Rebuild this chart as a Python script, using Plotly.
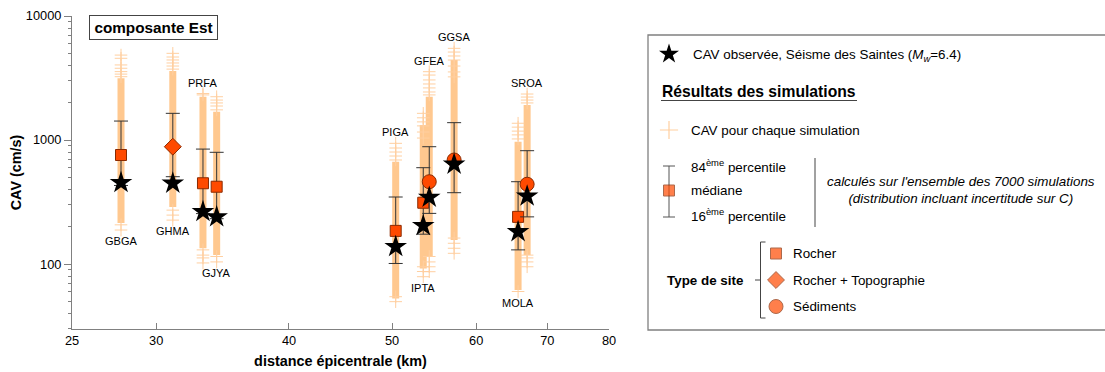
import numpy as np
import plotly.graph_objects as go

# ---------------- data ----------------
stations = ["GBGA", "GHMA", "PRFA", "GJYA", "PIGA", "IPTA", "GFEA", "GGSA", "MOLA", "SROA"]
distance_km = [27.8, 31.1, 33.2, 34.2, 50.4, 53.5, 54.2, 57.2, 65.7, 67.0]
site_type = ["Rocher", "Rocher + Topographie", "Rocher", "Rocher", "Rocher",
             "Rocher", "Sédiments", "Sédiments", "Rocher", "Sédiments"]
cav_observed = [453, 448, 264, 240, 138, 204, 345, 637, 182, 353]
cav_median = [757, 883, 448, 420, 185, 312, 461, 690, 240, 440]
cav_p84 = [1422, 1641, 845, 796, 347, 598, 883, 1380, 461, 820]
cav_p16 = [430, 506, 255, 232, 101, 174, 256, 376, 130, 240]
# dense part of the 7000 simulations (continuous band)
sim_dense_lo = [214, 288, 134, 118, 52.8, 92, 115, 156, 61.7, 118]
sim_dense_hi = [3145, 3600, 2234, 1692, 668, 1321, 2234, 4416, 968, 1914]
# sparse simulated values in the tails
sim_tail_hi = [
    [4840, 4560, 4030, 3790, 3560, 3400, 3240],
    [5000, 4670, 4420, 4180, 3950, 3730],
    [2370, 2310],
    [2234, 2100, 1990, 1880, 1750],
    [940, 862, 800, 743, 690],
    [1641, 1510, 1400, 1300, 1160, 1037],
    [3556, 3340, 3050, 2830, 2630, 2440, 2310],
    [5486, 5120, 4760, 4416, 3950, 3540, 3230],
    [1365, 1270, 1180, 1100, 1020],
    [2349, 2220, 2100, 1990],
]
sim_tail_lo = [
    [207, 188],
    [272, 248, 226],
    [130, 118, 112, 102],
    [115, 104],
    [54.5, 49.7],
    [95, 87, 79],
    [115, 104, 95, 86.7],
    [162, 147, 134, 122],
    [60],
    [118, 112, 104, 95],
]
label_side = ["below", "below", "above", "below", "above", "below", "above", "above", "below", "above"]

x_ticks = [25, 30, 40, 50, 60, 70, 80]
y_ticks = [100, 1000, 10000]
y_minor = [30, 40, 50, 60, 70, 80, 90, 200, 300, 400, 500, 600, 700, 800, 900,
           2000, 3000, 4000, 5000, 6000, 7000, 8000, 9000]

# ---------------- styles ----------------
FONT = "Liberation Sans, Arial, sans-serif"
BAND = "#FFC88F"
CROSS = "#FFCFA0"
MARK = "#FF4A00"
MARK_LINE = "#8A2A00"
ERR = "#333333"
AXIS = "#808080"
LEG = 13.4
symbol_of = {"Rocher": "square", "Rocher + Topographie": "diamond", "Sédiments": "circle"}
size_of = {"Rocher": 11, "Rocher + Topographie": 13, "Sédiments": 14}

fig = go.Figure()

# dense simulation bands
bx, by = [], []
for d, lo, hi in zip(distance_km, sim_dense_lo, sim_dense_hi):
    bx += [d, d, None]
    by += [lo, hi, None]
fig.add_trace(go.Scatter(x=bx, y=by, mode="lines", line=dict(color=BAND, width=7),
                         hoverinfo="skip", showlegend=False))

# tail crosses
tx, ty = [], []
for d, hi_list, lo_list in zip(distance_km, sim_tail_hi, sim_tail_lo):
    for v in hi_list + lo_list:
        tx.append(d)
        ty.append(v)
fig.add_trace(go.Scatter(x=tx, y=ty, mode="markers",
                         marker=dict(symbol="cross-thin-open", size=9, color=CROSS,
                                     line=dict(color=CROSS, width=1)),
                         hoverinfo="skip", showlegend=False))

# medians with 16/84 percentiles, per site type
for st in ["Rocher", "Rocher + Topographie", "Sédiments"]:
    idx = [i for i, s in enumerate(site_type) if s == st]
    fig.add_trace(go.Scatter(
        x=[distance_km[i] for i in idx],
        y=[cav_median[i] for i in idx],
        mode="markers",
        marker=dict(symbol=symbol_of[st], size=size_of[st], color=MARK,
                    line=dict(color=MARK_LINE, width=1)),
        error_y=dict(type="data", symmetric=False,
                     array=[cav_p84[i] - cav_median[i] for i in idx],
                     arrayminus=[cav_median[i] - cav_p16[i] for i in idx],
                     color=ERR, thickness=1, width=7),
        showlegend=False, name=st))

# observed CAV
fig.add_trace(go.Scatter(x=distance_km, y=cav_observed, mode="markers",
                         marker=dict(symbol="star", size=17, color="black",
                                     line=dict(color="black", width=0)),
                         showlegend=False, name="CAV observée"))

# station labels
annotations = []
for name, d, side, hi_list, lo_list in zip(stations, distance_km, label_side, sim_tail_hi, sim_tail_lo):
    if side == "above":
        yv, anchor, shift = max(hi_list), "bottom", 3
    else:
        yv, anchor, shift = min(lo_list), "top", -3
    annotations.append(dict(x=np.log10(d), y=np.log10(yv), xref="x", yref="y",
                            text=name, showarrow=False, xanchor="center", yanchor=anchor, yshift=shift,
                            font=dict(family=FONT, size=11, color="black")))

# title box
annotations.append(dict(x=(153.5 - 72) / 1033, y=(329 - 27.5) / 313, xref="paper", yref="paper",
                        text="<b>composante Est</b>", showarrow=False,
                        xanchor="center", yanchor="middle",
                        font=dict(family=FONT, size=15.3, color="black"),
                        bordercolor="#444444", borderwidth=1, borderpad=3,
                        bgcolor="white", width=121))

# ---------------- legend panel (pixel-like overlay axes x2/y2) ----------------
L = dict(xref="x2", yref="y2", showarrow=False, xanchor="left", yanchor="middle",
         font=dict(family=FONT, size=LEG, color="black"))
annotations += [
    dict(L, x=691, y=55, text="CAV observée, Séisme des Saintes (<i>M<sub>w</sub></i>=6.4)"),
    dict(L, x=660, y=91, text="<b>Résultats des simulations</b>",
         font=dict(family=FONT, size=15.7, color="black")),
    dict(L, x=689, y=130, text="CAV pour chaque simulation"),
    dict(L, x=689, y=166, text="84<sup>ème</sup> percentile"),
    dict(L, x=689, y=190.5, text="médiane"),
    dict(L, x=689, y=215, text="16<sup>ème</sup> percentile"),
    dict(xref="x2", yref="y2", showarrow=False, x=961, y=190, xanchor="center", yanchor="middle",
         text="<i>calculés sur l'ensemble des 7000 simulations<br>"
              "(distribution incluant incertitude sur C)</i>",
         font=dict(family=FONT, size=LEG, color="black")),
    dict(L, x=665, y=280, text="<b>Type de site</b>"),
    dict(L, x=791, y=253.5, text="Rocher"),
    dict(L, x=791, y=280, text="Rocher + Topographie"),
    dict(L, x=791, y=306.5, text="Sédiments"),
]

fig.add_trace(go.Scatter(x=[669], y=[54], mode="markers", xaxis="x2", yaxis="y2",
                         marker=dict(symbol="star", size=15, color="black"),
                         hoverinfo="skip", showlegend=False))
fig.add_trace(go.Scatter(x=[669], y=[130], mode="markers", xaxis="x2", yaxis="y2",
                         marker=dict(symbol="cross-thin-open", size=13, color=CROSS,
                                     line=dict(color=CROSS, width=1.2)),
                         hoverinfo="skip", showlegend=False))
fig.add_trace(go.Scatter(x=[669, 669, None, 663, 675, None, 663, 675],
                         y=[166, 217, None, 166, 166, None, 217, 217],
                         mode="lines", xaxis="x2", yaxis="y2",
                         line=dict(color="#555555", width=1),
                         hoverinfo="skip", showlegend=False))
fig.add_trace(go.Scatter(x=[669, 776, 776, 776], y=[190.5, 253.5, 280, 306.5], mode="markers",
                         xaxis="x2", yaxis="y2",
                         marker=dict(symbol=["square", "square", "diamond", "circle"],
                                     size=[11, 11, 13, 14], color=MARK,
                                     line=dict(color=MARK_LINE, width=1)),
                         hoverinfo="skip", showlegend=False))

shapes = [
    # legend frame (paper coords; right edge beyond the window)
    dict(type="rect", xref="paper", yref="paper",
         x0=(648 - 72) / 1033, x1=1.05, y0=(329 - 330) / 313, y1=(329 - 35) / 313,
         line=dict(color="#808080", width=1.3), fillcolor="rgba(0,0,0,0)", layer="below"),
    # underline of "Résultats des simulations"
    dict(type="line", xref="x2", yref="y2", x0=661, x1=857, y0=100.5, y1=100.5,
         line=dict(color="#444444", width=1)),
    # vertical separator
    dict(type="line", xref="x2", yref="y2", x0=815, x1=815, y0=158, y1=227,
         line=dict(color="#444444", width=1)),
    # bracket for site type
    dict(type="line", xref="x2", yref="y2", x0=755, x1=760.5, y0=280, y1=280,
         line=dict(color="#444444", width=1)),
    dict(type="line", xref="x2", yref="y2", x0=760.5, x1=760.5, y0=242, y1=318,
         line=dict(color="#444444", width=1)),
    dict(type="line", xref="x2", yref="y2", x0=760.5, x1=765.5, y0=242, y1=242,
         line=dict(color="#444444", width=1)),
    dict(type="line", xref="x2", yref="y2", x0=760.5, x1=765.5, y0=318, y1=318,
         line=dict(color="#444444", width=1)),
]

fig.update_layout(
    width=1105, height=372, autosize=False,
    margin=dict(l=72, r=0, t=16, b=43, autoexpand=False),
    paper_bgcolor="white", plot_bgcolor="white",
    font=dict(family=FONT, size=12, color="black"),
    showlegend=False,
    annotations=annotations, shapes=shapes,
    xaxis=dict(type="log", domain=[0, 537 / 1033], automargin=False,
               range=[np.log10(25), np.log10(80)],
               tickmode="array", tickvals=x_ticks, ticktext=[str(t) for t in x_ticks],
               ticks="inside", ticklen=6, tickcolor=AXIS,
               showline=True, linecolor=AXIS, linewidth=1,
               showgrid=False, zeroline=False,
               tickfont=dict(family=FONT, size=12.8, color="black"),
               title=dict(text="<b>distance épicentrale (km)</b>", standoff=8,
                          font=dict(family=FONT, size=14.4, color="black"))),
    yaxis=dict(type="log", range=[1.476, 4], automargin=False,
               tickmode="array", tickvals=y_ticks, ticktext=[str(t) for t in y_ticks],
               ticks="outside", ticklen=7, tickcolor=AXIS,
               minor=dict(tickmode="array", tickvals=y_minor, ticks="outside",
                          ticklen=3, tickcolor=AXIS, showgrid=False),
               showline=True, linecolor=AXIS, linewidth=1,
               showgrid=False, zeroline=False,
               tickfont=dict(family=FONT, size=12.8, color="black"),
               title=dict(text="<b>CAV (cm/s)</b>", standoff=0,
                          font=dict(family=FONT, size=14.4, color="black"))),
    xaxis2=dict(domain=[(640 - 72) / 1033, 1], range=[640, 1105], visible=False,
                anchor="y2", fixedrange=True),
    yaxis2=dict(domain=[0, 1], range=[329, 16], visible=False, anchor="x2", fixedrange=True),
)

fig.write_html("out.html", config={"displayModeBar": False},
               post_script="document.body.style.margin='0px';")
